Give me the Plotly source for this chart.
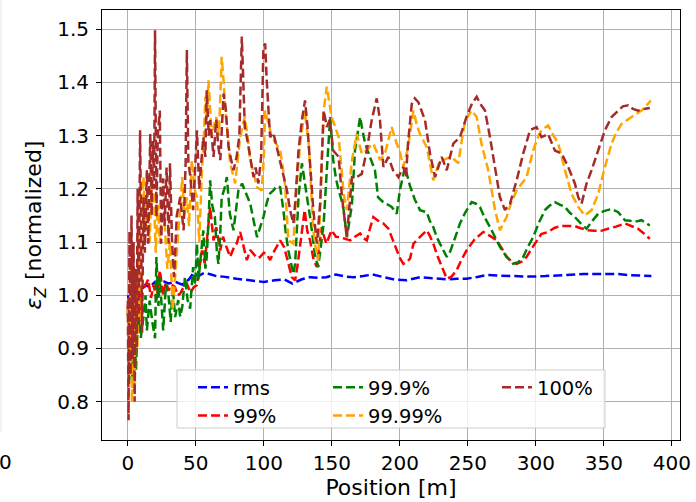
import plotly.graph_objects as go

RMS_X = [0, 2, 4, 6, 8, 10, 13, 16, 20, 25, 30, 35, 40, 45, 48, 52, 56, 60, 65, 70, 80, 90, 100,
         108, 115, 121, 128, 134, 140, 146, 153, 160, 166, 173, 180, 188, 195, 205, 215, 225, 235,
         242, 249, 256, 264, 273, 283, 295, 307, 323, 335, 348, 360, 368, 376, 385]
RMS_Y = [1.0, 0.98, 1.01, 1.0, 1.02, 1.01, 1.02, 1.015, 1.025, 1.028, 1.022, 1.025, 1.02, 1.03,
         1.041, 1.036, 1.042, 1.04, 1.036, 1.035, 1.031, 1.028, 1.025, 1.028, 1.03, 1.022, 1.03,
         1.034, 1.033, 1.034, 1.039, 1.035, 1.034, 1.036, 1.039, 1.034, 1.03, 1.028, 1.034, 1.032,
         1.030, 1.031, 1.031, 1.034, 1.038, 1.037, 1.036, 1.035, 1.036, 1.039, 1.040, 1.040, 1.040,
         1.038, 1.037, 1.036]

P99_X = [0, 1.5, 3, 4.5, 6, 8, 10, 12.5, 15, 17, 19, 21, 23.5, 26, 28, 30, 32, 34.6, 36.5, 38.5,
         41, 43.4, 46, 48.5, 50.8, 53, 54.5, 56.5, 58.5, 60.5, 63, 65, 67.9, 70, 71.6, 75.2, 78, 80,
         82.6, 85, 87.5, 90, 92.4, 95, 97.3, 100, 102, 104.6, 107, 109, 112, 115, 117, 119, 120.6,
         123, 125, 126.7, 128.5, 130, 132, 134, 136.6, 139, 140.5, 142.6, 144.3, 146, 149.8, 153,
         156, 160, 163.5, 167, 170.8, 173, 175.7, 178, 180.5, 184, 187.9, 191.6, 194.5, 197.7, 200,
         202.6, 205, 207.5, 210, 215, 219.8, 222, 224.6, 227.5, 230.8, 234.5, 238, 241.8, 245, 249,
         255, 261.4, 266, 271.2, 275, 278.5, 282, 285.9, 289.5, 293.2, 297, 300.6, 304, 309, 314,
         319, 324, 328.7, 333, 338.5, 343, 348, 353, 359, 365.5, 370, 375.2, 379, 383.8]
P99_Y = [0.98, 0.88, 0.95, 0.86, 0.99, 0.93, 1.01, 1.016, 1.03, 0.995, 1.02, 0.99, 1.047, 1.0,
         1.025, 1.009, 1.02, 1.016, 1.0, 1.003, 1.015, 1.022, 1.005, 1.015, 1.019, 1.053, 1.084,
         1.06, 1.11, 1.166, 1.103, 1.128, 1.084, 1.11, 1.097, 1.072, 1.09, 1.097, 1.119, 1.09,
         1.066, 1.085, 1.078, 1.07, 1.072, 1.08, 1.078, 1.066, 1.08, 1.09, 1.103, 1.09, 1.072,
         1.05, 1.034, 1.028, 1.06, 1.097, 1.13, 1.16, 1.12, 1.103, 1.066, 1.053, 1.09, 1.128,
         1.11, 1.097, 1.122, 1.11, 1.109, 1.105, 1.103, 1.11, 1.116, 1.108, 1.103, 1.125, 1.147,
         1.14, 1.135, 1.125, 1.105, 1.084, 1.07, 1.059, 1.062, 1.069, 1.097, 1.11, 1.122, 1.112,
         1.097, 1.075, 1.053, 1.031, 1.035, 1.047, 1.065, 1.084, 1.105, 1.119, 1.112, 1.103,
         1.088, 1.072, 1.064, 1.059, 1.063, 1.072, 1.088, 1.103, 1.115, 1.119, 1.127, 1.130,
         1.130, 1.130, 1.126, 1.122, 1.121, 1.121, 1.125, 1.129, 1.135, 1.131, 1.125, 1.117, 1.106]

P999_X = [0, 1.5, 3, 4.5, 6, 8, 9.5, 11.5, 13, 14, 16, 18, 20, 21, 22.5, 23.5, 25, 26, 28, 30,
          31.5, 33, 34.8, 37, 38.5, 40, 42, 44, 45.8, 48, 49.5, 50.8, 52, 53, 55.5, 57, 58, 59.5,
          60.5, 62, 64, 65.5, 66.6, 68, 69, 71, 72.8, 75, 77.7, 79.5, 81.3, 84, 87, 90, 92.5, 95,
          97.3, 99.7, 102, 104, 107, 109.5, 112, 114.4, 116, 118, 120, 121.7, 123, 124.3, 125.5,
          128, 130, 132, 134, 136, 137.8, 140, 142, 144, 146.3, 148.8, 151, 153, 155, 157, 158.7,
          161, 163, 164.8, 167, 170.8, 172.5, 174.5, 178, 181.7, 184, 186.5, 189, 191.5, 194,
          197.7, 200, 203.8, 207.5, 211, 214.8, 219.8, 222, 224.6, 227, 229.5, 232, 234.5, 237,
          239.3, 242, 244.2, 248, 252.8, 256, 258.9, 262, 266.3, 270, 273.6, 278, 283.4, 287,
          290.7, 294, 298, 302, 306.7, 310, 314, 318, 321.4, 325, 328.7, 333, 337.3, 341, 345.8,
          350, 355.7, 360.6, 365.5, 369, 372.8, 377.7, 381, 383.8]
P999_Y = [0.97, 0.9, 0.834, 0.95, 0.86, 1.0, 0.92, 0.959, 1.0, 0.934, 0.99, 0.95, 0.919, 1.072,
          0.98, 1.034, 0.97, 0.934, 1.02, 0.997, 0.95, 1.016, 0.959, 0.991, 0.96, 0.978, 1.034,
          0.99, 0.975, 1.053, 1.02, 1.097, 1.03, 1.059, 1.122, 1.05, 1.072, 1.15, 1.216, 1.17,
          1.147, 1.08, 1.059, 1.12, 1.184, 1.2, 1.222, 1.153, 1.122, 1.16, 1.197, 1.21, 1.19,
          1.172, 1.14, 1.109, 1.128, 1.147, 1.172, 1.19, 1.197, 1.205, 1.203, 1.160, 1.12, 1.084,
          1.06, 1.040, 1.059, 1.12, 1.184, 1.248, 1.21, 1.18, 1.147, 1.11, 1.072, 1.053, 1.09,
          1.135, 1.235, 1.335, 1.254, 1.22, 1.197, 1.18, 1.160, 1.109, 1.14, 1.172, 1.272, 1.335,
          1.31, 1.285, 1.26, 1.235, 1.184, 1.178, 1.172, 1.17, 1.166, 1.153, 1.197, 1.241, 1.205,
          1.18, 1.160, 1.156, 1.14, 1.128, 1.11, 1.097, 1.085, 1.072, 1.082, 1.097, 1.118, 1.135,
          1.155, 1.175, 1.172, 1.166, 1.148, 1.128, 1.108, 1.091, 1.074, 1.059, 1.062, 1.072,
          1.09, 1.109, 1.135, 1.160, 1.168, 1.175, 1.17, 1.166, 1.155, 1.147, 1.135, 1.125,
          1.138, 1.153, 1.158, 1.162, 1.156, 1.141, 1.14, 1.138, 1.141, 1.136, 1.131]

P9999_X = [0, 1, 2, 3, 4, 5, 6, 7, 8, 9, 10, 11.5, 13, 14, 16, 17.5, 19, 20.5, 22, 23.5, 25, 27,
           29, 31, 33, 35, 36.6, 38, 40, 41.5, 43.4, 45, 47, 49, 50.8, 52.5, 54.5, 56, 57, 58,
           59.3, 60.5, 61.7, 63.5, 65, 67, 69, 70.5, 71.6, 73.5, 75.2, 77, 78.9, 81, 82.6, 84.5,
           86, 88, 90, 92.5, 95, 98.5, 100, 101, 103.5, 105.9, 109, 112, 114, 115.7, 118, 120,
           121.7, 124, 126.7, 130, 133, 136.4, 138, 140, 142, 144, 146.3, 148, 149.8, 152, 155,
           157, 158.7, 161, 163, 164.8, 168.3, 172, 175.7, 178, 180.5, 183, 185.4, 189, 191.5,
           194, 197.7, 200, 202.6, 206, 210, 212.5, 214.8, 219.8, 222, 224.6, 227, 229.5, 233,
           236.9, 240, 243, 245.5, 248, 252.8, 256.5, 260, 265, 270, 273.6, 278.5, 282, 285.9,
           289.5, 293.2, 298, 302, 304.2, 309, 313, 316.5, 321.4, 326.3, 331.2, 336, 341, 345.8,
           350.8, 355.7, 359, 363, 370.4, 377.7, 381, 384.5]
P9999_Y = [0.98, 0.85, 1.05, 0.8, 1.0, 0.82, 1.05, 0.9, 1.12, 0.95, 1.15, 1.222, 1.12, 1.184,
           1.1, 1.2, 1.203, 1.08, 1.17, 1.097, 1.15, 1.14, 1.05, 1.1, 0.972, 1.05, 1.097, 1.15,
           1.222, 1.15, 1.184, 1.13, 1.254, 1.2, 1.184, 1.1, 1.235, 1.3, 1.373, 1.33, 1.404, 1.35,
           1.297, 1.32, 1.335, 1.3, 1.448, 1.4, 1.347, 1.3, 1.248, 1.23, 1.210, 1.26, 1.297, 1.32,
           1.335, 1.3, 1.254, 1.23, 1.203, 1.197, 1.26, 1.347, 1.32, 1.297, 1.285, 1.272, 1.24,
           1.203, 1.103, 1.1, 1.097, 1.2, 1.285, 1.347, 1.285, 1.122, 1.09, 1.066, 1.2, 1.347,
           1.392, 1.36, 1.335, 1.32, 1.297, 1.24, 1.190, 1.160, 1.21, 1.254, 1.303, 1.266, 1.272,
           1.28, 1.285, 1.27, 1.254, 1.266, 1.29, 1.316, 1.285, 1.27, 1.241, 1.278, 1.347, 1.32,
           1.303, 1.278, 1.25, 1.216, 1.235, 1.254, 1.255, 1.260, 1.255, 1.248, 1.29, 1.328,
           1.347, 1.335, 1.285, 1.235, 1.160, 1.122, 1.147, 1.175, 1.197, 1.21, 1.222, 1.272,
           1.30, 1.31, 1.319, 1.3, 1.285, 1.235, 1.190, 1.166, 1.150, 1.160, 1.190, 1.241, 1.285,
           1.305, 1.322, 1.335, 1.347, 1.355, 1.366]

P100_X = [0, 0.5, 1.2, 2, 2.7, 3.5, 4.2, 5, 5.8, 6.5, 7.2, 8, 9, 10.5, 11.5, 12.5, 14, 15, 16.5,
          17.5, 18.5, 19.3, 20, 21, 22, 23.5, 24.5, 26, 27, 28.5, 30, 31, 32.5, 34, 36, 38.5, 41,
          42.5, 43.4, 44.5, 46, 48, 50.8, 52.5, 54, 55.5, 57, 58, 59.5, 60.5, 62, 63, 65, 66.5, 68,
          70.4, 72, 74, 75.5, 77.7, 80, 82, 83.8, 85, 86, 88, 90, 92.4, 94, 96, 98, 99.7, 101, 102,
          104.6, 107, 109.5, 113, 117, 119.3, 121.7, 123, 125.5, 128, 130.3, 132, 134, 136.4, 139,
          141.4, 144, 146.3, 148.5, 151, 155, 157.5, 161, 163, 164.8, 168.3, 172, 175.7, 179.3,
          183, 185.4, 187.9, 191.6, 195, 199, 202.6, 204.5, 206, 208.8, 211, 213.6, 218.5, 222.2,
          225.9, 228, 230.8, 234.5, 239.3, 244.2, 249, 253, 256.5, 259, 262.6, 266.3, 270, 273.6,
          277.3, 281, 285.9, 290.7, 295.7, 300.5, 304.2, 309, 314, 319, 323.8, 328.7, 331.2,
          333.6, 337.3, 341, 345.8, 350.8, 355.7, 360.6, 364, 368, 371.5, 375.2, 379, 383.8]
P100_Y = [0.99, 0.765, 1.12, 0.85, 1.15, 0.88, 1.1, 0.80, 1.05, 0.9, 1.2, 0.95, 1.31, 0.93,
          1.184, 1.08, 1.235, 1.097, 1.303, 1.15, 1.29, 1.2, 1.498, 1.147, 1.3, 1.347, 1.097,
          1.22, 1.13, 1.24, 1.097, 1.248, 1.1, 1.034, 1.15, 1.184, 1.122, 1.25, 1.461, 1.25,
          1.222, 1.16, 1.31, 1.2, 1.25, 1.297, 1.26, 1.385, 1.3, 1.329, 1.29, 1.26, 1.33, 1.28,
          1.254, 1.379, 1.35, 1.28, 1.26, 1.235, 1.26, 1.3, 1.486, 1.38, 1.316, 1.29, 1.26, 1.222,
          1.24, 1.21, 1.26, 1.467, 1.473, 1.41, 1.297, 1.305, 1.278, 1.241, 1.197, 1.160, 1.135,
          1.172, 1.272, 1.329, 1.366, 1.32, 1.241, 1.160, 1.097, 1.172, 1.347, 1.316, 1.33, 1.272,
          1.26, 1.184, 1.109, 1.17, 1.222, 1.222, 1.228, 1.272, 1.329, 1.370, 1.329, 1.241, 1.26,
          1.235, 1.222, 1.241, 1.222, 1.285, 1.360, 1.37, 1.363, 1.329, 1.266, 1.222, 1.24, 1.260,
          1.235, 1.285, 1.297, 1.335, 1.36, 1.373, 1.36, 1.347, 1.297, 1.241, 1.184, 1.160, 1.172,
          1.216, 1.266, 1.31, 1.316, 1.297, 1.303, 1.272, 1.266, 1.241, 1.210, 1.184, 1.172,
          1.210, 1.235, 1.272, 1.31, 1.335, 1.347, 1.355, 1.357, 1.35, 1.347, 1.35, 1.352]

X_TICKS = [0, 50, 100, 150, 200, 250, 300, 350, 400]
Y_TICKS = [0.8, 0.9, 1.0, 1.1, 1.2, 1.3, 1.4, 1.5]

# name, x, y, colour, legend column
SERIES = [
    ("rms", RMS_X, RMS_Y, "#0000ff", "legend"),
    ("99%", P99_X, P99_Y, "#ff0000", "legend"),
    ("99.9%", P999_X, P999_Y, "#008000", "legend2"),
    ("99.99%", P9999_X, P9999_Y, "#ffa500", "legend2"),
    ("100%", P100_X, P100_Y, "#a52a2a", "legend3"),
]

fig = go.Figure()
for name, xs, ys, color, leg in SERIES:
    fig.add_trace(go.Scatter(
        x=xs, y=ys, mode="lines", name=name, legend=leg,
        line=dict(color=color, width=2.5, dash="9px,4px"),
    ))

axis_common = dict(
    showgrid=True, gridcolor="#b0b0b0", gridwidth=1,
    showline=True, linecolor="black", linewidth=1, mirror=True,
    ticks="outside", ticklen=5, tickcolor="black", tickwidth=1,
    zeroline=False, tickfont=dict(size=20, color="black"), automargin=False,
)

fig.update_xaxes(range=[-19, 406], tickvals=X_TICKS,
                 title=dict(text="Position [m]", font=dict(size=22, color="black"), standoff=3),
                 **axis_common)
fig.update_yaxes(range=[0.728, 1.536], tickvals=Y_TICKS, tickformat=".1f",
                 ticklabelstandoff=3,
                 title=dict(text="<i>ε</i><sub><i>Z</i></sub> [normalized]",
                            font=dict(size=22, color="black"), standoff=9),
                 **axis_common)

W, H = 696, 502
ML, MR, MT, MB = 102, 16, 10, 62
PW, PH = W - ML - MR, H - MT - MB


def px_x(p):
    return (p - ML) / PW


def px_y(p):
    return (H - MB - p) / PH


leg_common = dict(
    orientation="v", xanchor="left", yanchor="top", y=px_y(368),
    bgcolor="rgba(0,0,0,0)", borderwidth=0, font=dict(size=19.5, color="black"),
    traceorder="normal", tracegroupgap=0,
)

fig.update_layout(
    width=W, height=H,
    margin=dict(l=ML, r=MR, t=MT, b=MB),
    plot_bgcolor="white", paper_bgcolor="white",
    font=dict(family="DejaVu Sans", size=20, color="black"),
    showlegend=True,
    legend=dict(x=px_x(193), **leg_common),
    legend2=dict(x=px_x(328), **leg_common),
    legend3=dict(x=px_x(497), **leg_common),
    annotations=[dict(text="0", xref="paper", yref="paper", x=px_x(5), y=px_y(462),
                      xanchor="center", yanchor="middle", showarrow=False,
                      font=dict(size=20, color="black"))],
    shapes=[
        dict(type="line", xref="paper", yref="paper", x0=px_x(1), x1=px_x(1),
             y0=px_y(432), y1=px_y(0), line=dict(color="#e6e6e6", width=1)),
        dict(type="rect", xref="paper", yref="paper", layer="above",
             x0=px_x(177), x1=px_x(605), y0=px_y(428), y1=px_y(370),
             fillcolor="rgba(255,255,255,0.8)", line=dict(color="#cccccc", width=1)),
    ],
)

fig.write_html("out.html", config={"displayModeBar": False},
               post_script="document.body.style.margin='0px';")
